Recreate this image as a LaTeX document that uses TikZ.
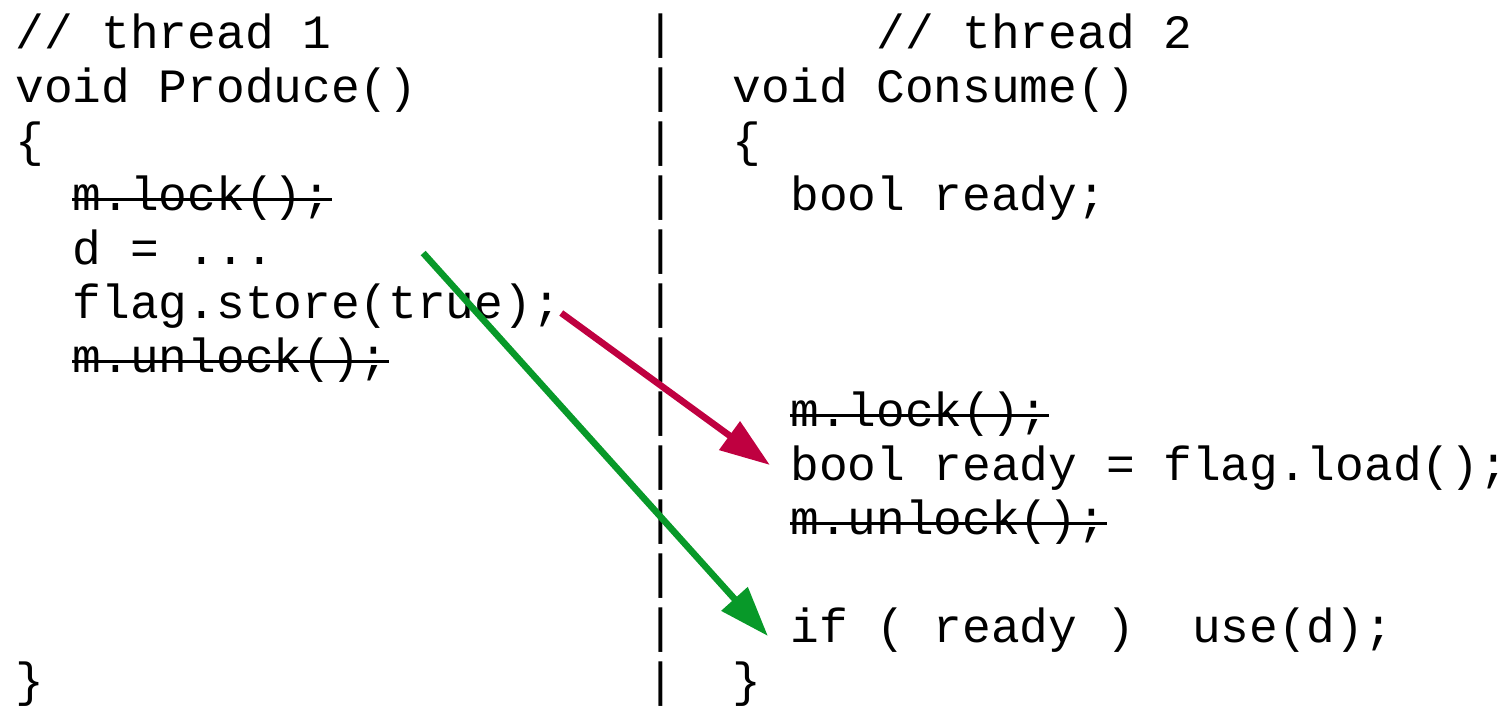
\documentclass[tikz,border=0pt]{standalone}
\usepackage{fontspec}
\setmonofont{Liberation Mono}
\usepackage{tikz}
\usetikzlibrary{arrows.meta}
\definecolor{storered}{RGB}{191,0,64}
\definecolor{datagreen}{RGB}{8,153,41}
\tikzstyle{code} = [anchor=base west, inner sep=0pt,
    font=\ttfamily\fontsize{23.92pt}{27pt}\selectfont]
\tikzstyle{struck} = [draw, line width=1.1pt]
\tikzstyle{line} = [draw, line width=3.3pt, -{Triangle[length=25pt,width=17pt]}]

\begin{document}
\begin{tikzpicture}[x=14.35pt, y=-27pt]
    \useasboundingbox (-7.5pt,-3pt) rectangle (746.5pt,-356.5pt);
    % Place nodes: thread 1
    \node [code] (thread1) at (0,1) {// thread 1};
    \node [code] (produce) at (0,2) {void Produce()};
    \node [code] (open1) at (0,3) {\{};
    \node [code] (lock1) at (2,4) {m.lock();};
    \node [code] (assign) at (2,5) {d = ...};
    \node [code] (store) at (2,6) {flag.store(true);};
    \node [code] (unlock1) at (2,7) {m.unlock();};
    \node [code] (close1) at (0,13) {\}};
    % separator
    \foreach \r in {1,...,13}
        \node [code] (bar\r) at (22,\r) {|};
    % thread 2
    \node [code] (thread2) at (30,1) {// thread 2};
    \node [code] (consume) at (25,2) {void Consume()};
    \node [code] (open2) at (25,3) {\{};
    \node [code] (declare) at (27,4) {bool ready;};
    \node [code] (lock2) at (27,8) {m.lock();};
    \node [code] (load) at (27,9) {bool ready = flag.load();};
    \node [code] (unlock2) at (27,10) {m.unlock();};
    \node [code] (ifuse) at (27,12) {if ( ready )~~use(d);};
    \node [code] (close2) at (25,13) {\}};
    \coordinate (dstart) at ([shift={(74.5pt,5.5pt)}]assign.base east);
    % Strike out the locks
    \foreach \n in {lock1,unlock1,lock2,unlock2}
        \path [struck] ([yshift=5.3pt]\n.base west) -- ([yshift=5.3pt]\n.base east);
    % Draw edges
    \path [line, storered] ([yshift=2.5pt]store.base east) -- ([shift={(-10pt,7.5pt)}]load.base west);
    \path [line, datagreen] (dstart) -- ([shift={(-11pt,3pt)}]ifuse.base west);
\end{tikzpicture}
\end{document}
